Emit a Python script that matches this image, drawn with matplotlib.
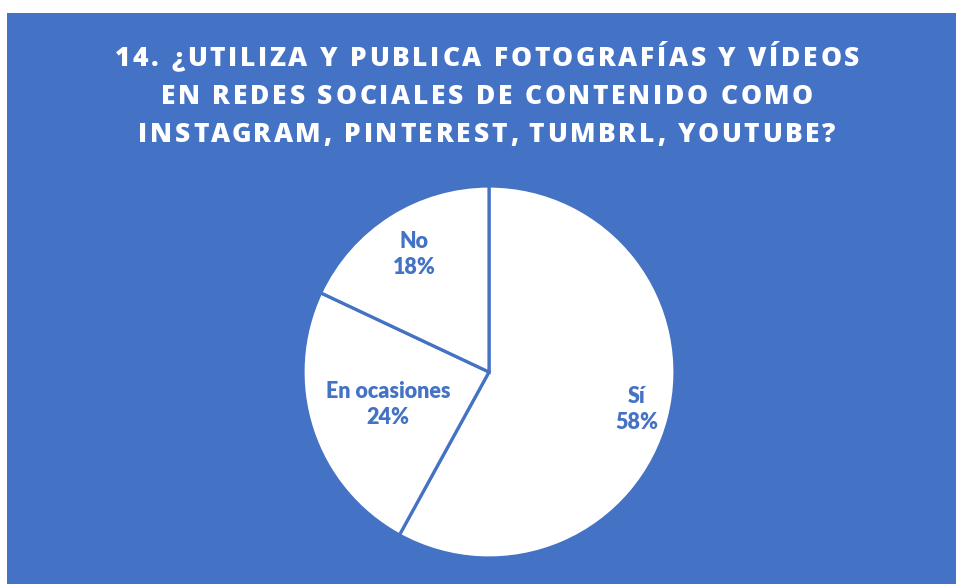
import numpy as np
import matplotlib.pyplot as plt
from matplotlib.patches import Rectangle
from matplotlib.font_manager import FontProperties

labels = ['Sí', 'En ocasiones', 'No']
values = [58, 24, 18]
label_dist = [0.82, 0.57, 0.75]
title_lines = ['14. ¿UTILIZA Y PUBLICA FOTOGRAFÍAS Y VÍDEOS',
               'EN REDES SOCIALES DE CONTENIDO COMO',
               'INSTAGRAM, PINTEREST, TUMBRL, YOUTUBE?']

blue = '#4472C4'
W, H = 956, 584

fig = plt.figure(figsize=(W / 100, H / 100), dpi=100, facecolor='white')
fig.patches.append(Rectangle((7 / W, 0), 1 - 7 / W, (H - 13) / H,
                             transform=fig.transFigure, facecolor=blue,
                             edgecolor='none', zorder=-1))

cx, cy, r = 489, 372, 186
ax = fig.add_axes([(cx - r) / W, (H - cy - r) / H, 2 * r / W, 2 * r / H])
ax.set_zorder(2)
ax.set_facecolor('none')
wedges, _ = ax.pie(values, startangle=90, counterclock=False, radius=1,
                   colors=['white'] * 3,
                   wedgeprops=dict(edgecolor=blue, linewidth=2.3))
ax.set_xlim(-1, 1)
ax.set_ylim(-1, 1)
ax.axis('off')

for w, lab, v, d in zip(wedges, labels, values, label_dist):
    ang = np.deg2rad((w.theta1 + w.theta2) / 2)
    ax.text(d * np.cos(ang), d * np.sin(ang), f'{lab}\n{v}%',
            ha='center', va='center', color=blue, fontsize=15.5,
            fontweight='heavy', family='Lato', linespacing=1.3)

# title with letter spacing, drawn char by char
fp = FontProperties(family='Open Sans', weight='heavy', size=19)
renderer = fig.canvas.get_renderer()
target_w = 745


def text_w(s):
    wbar = renderer.get_text_width_height_descent('|', fp, ismath=False)[0]
    return renderer.get_text_width_height_descent(s + '|', fp, ismath=False)[0] - wbar


spacing = (target_w - text_w(title_lines[0])) / (len(title_lines[0]) - 1)

for line, ypix in zip(title_lines, [56, 94, 132]):
    total = text_w(line) + spacing * (len(line) - 1)
    x0 = 487 - total / 2
    for i, ch in enumerate(line):
        if ch == ' ':
            continue
        x = x0 + text_w(line[:i]) + spacing * i
        fig.text(x / W, 1 - ypix / H, ch, ha='left', va='center_baseline',
                 color='white', fontproperties=fp)

fig.savefig('out.png', dpi=100, facecolor='white')
